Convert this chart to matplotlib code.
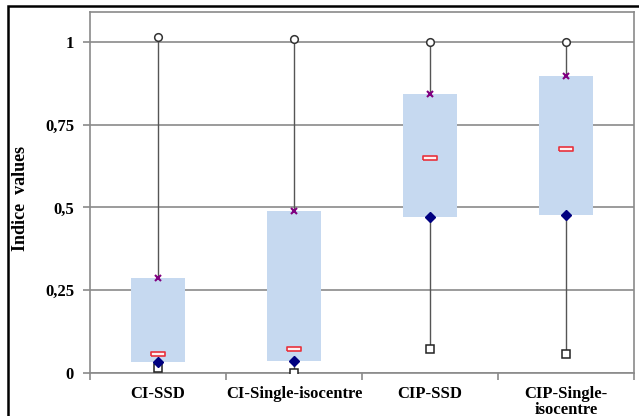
import matplotlib
matplotlib.use("Agg")
import matplotlib.pyplot as plt
from matplotlib.patches import Rectangle
import numpy as np

categories = ["CI-SSD", "CI-Single-isocentre", "CIP-SSD", "CIP-Single-\nisocentre"]
maxima = [1.014, 1.009, 1.0, 1.0]
q3 = [0.286, 0.490, 0.842, 0.897]
median = [0.058, 0.072, 0.650, 0.677]
q1 = [0.033, 0.035, 0.472, 0.478]
minima = [0.014, 0.0, 0.072, 0.058]
yticks = [0, 0.25, 0.5, 0.75, 1]
ytick_labels = ["0", "0,25", "0,5", "0,75", "1"]

W, H = 639, 416
fig = plt.figure(figsize=(W / 100, H / 100), dpi=100)
ax = fig.add_axes([90 / W, 1 - 373 / H, 544 / W, 361 / H])

font = "Liberation Serif"
x = np.arange(len(categories)) + 0.5

ax.set_axisbelow(True)
ax.yaxis.grid(True, color="#8a8a8a", lw=1.2)
ax.vlines(x, minima, maxima, colors="#555555", lw=1.0, zorder=1.5)
ax.bar(x, np.array(q3) - np.array(q1), bottom=q1, width=0.4,
       color="#c6d9f0", zorder=2)

rect = [(-1, -0.3), (1, -0.3), (1, 0.3), (-1, 0.3), (-1, -0.3)]
ax.plot(x, maxima, "o", ms=5.5, mfc="white", mec="#333333", mew=1.1, zorder=3, ls="none")
ax.plot(x, minima, "s", ms=5.5, mfc="white", mec="#222222", mew=1.1, zorder=3, ls="none")
ax.plot(x, q1, "D", ms=5, mfc="#000080", mec="#000080", zorder=3, ls="none")
ax.plot(x, q3, "x", ms=5, mec="#800080", mew=1.5, zorder=3, ls="none")
ax.plot(x, median, marker=rect, ms=9.5, mfc="#fff0f0", mec="#e8323c", mew=1.2,
        zorder=3, ls="none")

ax.set_xlim(0, 4)
ax.set_ylim(0, 1.09)
ax.set_yticks(yticks)
ax.set_yticklabels(ytick_labels, fontfamily=font, fontweight="bold", fontsize=12)
ax.set_xticks(np.arange(5))
ax.set_xticklabels([])
ax.set_xticks(x, minor=True)
ax.set_xticklabels(categories, minor=True, fontfamily=font, fontweight="bold",
                   fontsize=12, linespacing=1.0)
ax.tick_params(axis="x", which="major", direction="out", length=5, color="#8a8a8a", width=1.2)
ax.tick_params(axis="x", which="minor", length=0, pad=9)
ax.tick_params(axis="y", direction="out", length=5, color="#8a8a8a", width=1.2, pad=6.5)
for s in ax.spines.values():
    s.set_color("#8a8a8a")
    s.set_linewidth(1.2)

fig.text(21 / W, 1 - 198 / H, "Indice  values", rotation=90, ha="center", va="center",
         fontfamily=font, fontweight="bold", fontsize=13)

fig.patches.append(Rectangle((8 / W, -0.1), 2, 1.1 - 6 / H, transform=fig.transFigure,
                             fill=False, ec="black", lw=1.8))

fig.savefig("out.png", dpi=100)
